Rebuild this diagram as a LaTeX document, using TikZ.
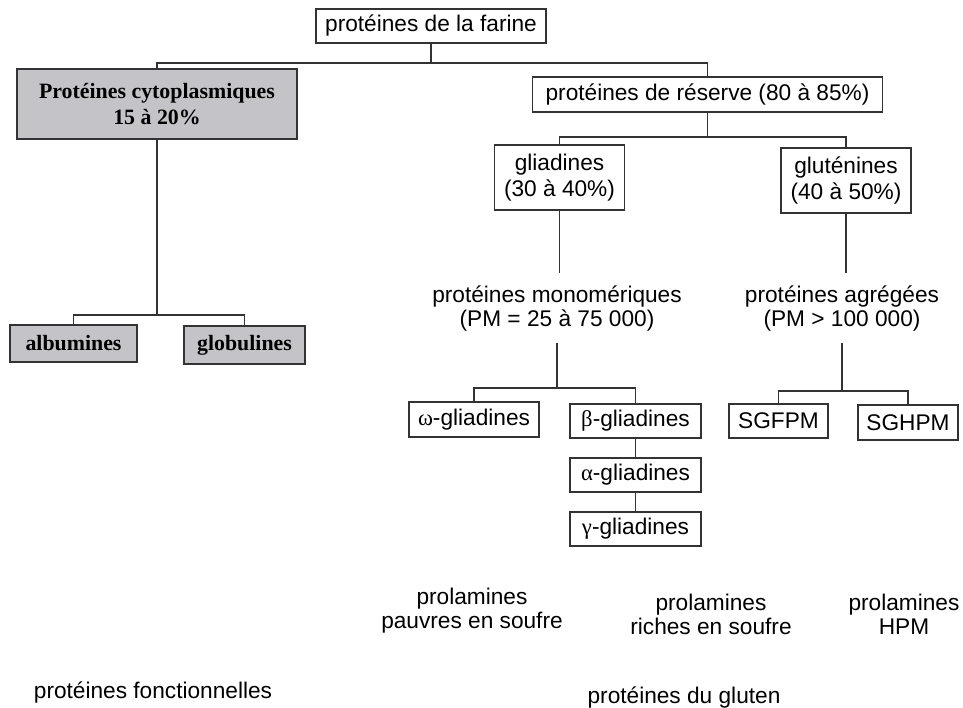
\documentclass[tikz,border=0pt]{standalone}
\usepackage{fontspec}
\setmainfont{Liberation Sans}
\newfontfamily\tnr{Liberation Serif}
\definecolor{grisboite}{RGB}{196,196,200}
\tikzset{
  lien/.style={draw=black!80, line width=0.8pt},
  boite/.style={draw=black!80, line width=0.8pt, inner xsep=5pt, inner ysep=0pt, align=center, font=\fontsize{17}{20}\selectfont},
  boitegrise/.style={boite, fill=grisboite, font=\tnr\bfseries\fontsize{16.4}{20}\selectfont},
  etiq/.style={inner sep=0pt, align=center, font=\fontsize{17}{18}\selectfont}
}
\begin{document}
\begin{tikzpicture}[x=0.75pt,y=0.75pt,yscale=-1,xscale=1]
\useasboundingbox (0,0) rectangle (963,707);
% Text Node
\node [boite, minimum width=172.5pt, minimum height=25.5pt] (farine) at (431,26) {protéines de la farine};
\node [boitegrise, minimum width=210pt, minimum height=52.5pt] (cyto) at (157,104) {Protéines cytoplasmiques\\15 à 20\%};
\node [boite, minimum width=263pt, minimum height=26.25pt] (reserve) at (707.5,94.5) {protéines de réserve (80 à 85\%)};
% Text Node
\node [boite, minimum width=97.5pt, minimum height=48.75pt] (glia) at (559.5,177.5) {gliadines\\(30 à 40\%)};
\node [boite, minimum width=97.5pt, minimum height=48.75pt] (glut) at (846,180.5) {gluténines\\(40 à 50\%)};
\node [etiq, minimum height=52.5pt] (mono) at (557,308) {protéines monomériques\\(PM = 25 à 75 000)};
\node [etiq, minimum height=52.5pt] (aggr) at (842,308) {protéines agrégées\\(PM > 100 000)};
% Text Node
\node [boite, minimum width=97.5pt, minimum height=26.25pt] (omega) at (474,419.5) {{\tnr ω}-gliadines};
\node [boite, minimum width=98.25pt, minimum height=25.5pt] (beta) at (635.5,421) {{\tnr β}-gliadines};
\node [boite, minimum width=98.25pt, minimum height=25.5pt] (alpha) at (635.5,475) {{\tnr α}-gliadines};
\node [boite, minimum width=98.25pt, minimum height=25.5pt] (gamma) at (635.5,529) {{\tnr γ}-gliadines};
\node [boite, minimum width=74.25pt, minimum height=25.5pt] (sgf) at (778.5,421) {SGFPM};
\node [boite, minimum width=75pt, minimum height=26.25pt] (sgh) at (908,422.5) {SGHPM};
% Text Node
\node [boitegrise, minimum width=95.25pt, minimum height=27.75pt] (albu) at (73.5,343.5) {albumines};
\node [boitegrise, minimum width=90.75pt, minimum height=28.5pt] (glob) at (244.5,345) {globulines};
% Text Node
\node [etiq] (pauvres) at (472,611) {prolamines\\pauvres en soufre};
\node [etiq] (riches) at (711,614) {prolamines\\riches en soufre};
\node [etiq] (hpm) at (904,614) {prolamines\\HPM};
\node [etiq] (gluten) at (684,697) {protéines du gluten};
\node [etiq] (fonct) at (153,692) {protéines fonctionnelles};
%Straight Lines
\coordinate (j0) at (431,63);
\coordinate (j1) at (707.5,137);
\coordinate (j2) at (557,388);
\coordinate (j3) at (842,391);
\coordinate (j4) at (157,315);
\draw [lien] (farine.south) -- (j0);
\draw [lien] (cyto.north) |- (j0) -| (reserve.north);
\draw [lien] (reserve.south) -- (j1);
\draw [lien] (glia.north) |- (j1) -| (glut.north);
\draw [lien] (glia.south) -- (glia.south |- mono.north);
\draw [lien] (glut.south) -- (glut.south |- aggr.north);
\draw [lien] (mono.south) -- (j2);
\draw [lien] (omega.north) |- (j2) -| (beta.north);
\draw [lien] (beta.south) -- (alpha.north);
\draw [lien] (alpha.south) -- (gamma.north);
\draw [lien] (aggr.south) -- (j3);
\draw [lien] (sgf.north) |- (j3) -| (sgh.north);
\draw [lien] (cyto.south) -- (j4);
\draw [lien] (albu.north) |- (j4) -| (glob.north);
\end{tikzpicture}
\end{document}
